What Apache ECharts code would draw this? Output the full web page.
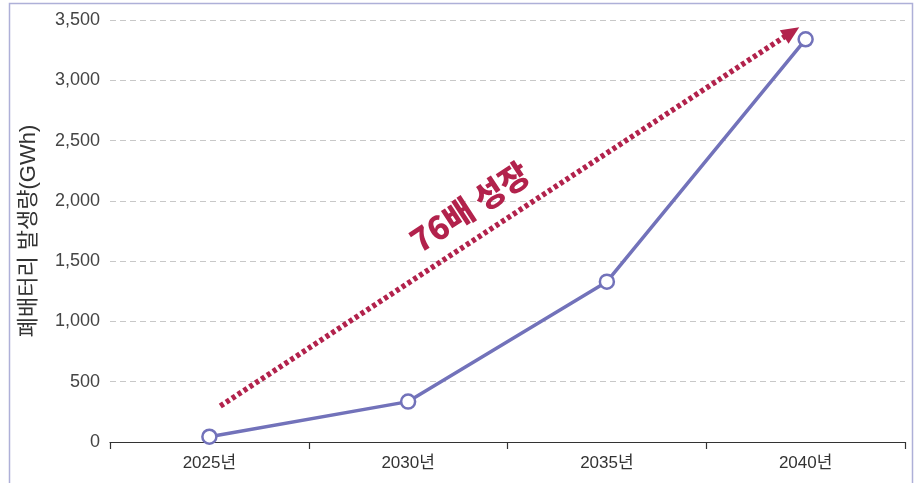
<!DOCTYPE html>
<html><head><meta charset="utf-8">
<script src="https://cdn.jsdelivr.net/npm/echarts@6/dist/echarts.min.js"></script>
<style>html,body{margin:0;padding:0;background:#fff}#c{width:917px;height:483px}</style>
</head><body><div id="c"></div>
<script>
const categories = ['2025년', '2030년', '2035년', '2040년'];
const values = [44, 335, 1330, 3340];
const yTicks = [0, 500, 1000, 1500, 2000, 2500, 3000, 3500];
const yAxisName = '폐배터리 발생량(GWh)';
const arrowStart = [0.055, 298];
const arrowEnd = [2.93, 3400];
const arrowText = '76배 성장';
const arrowTextPos = [1.31, 1950];

const FONT = "'Liberation Sans','Noto Sans CJK KR',sans-serif";
const chart = echarts.init(document.getElementById('c'));
chart.setOption({
  animation: false,
  grid: {left: 110, right: 12, top: 20, bottom: 41},
  xAxis: [{
    type: 'category', data: categories, boundaryGap: true,
    axisLine: {lineStyle: {color: '#333', width: 1.2}},
    axisTick: {show: true, length: 7, lineStyle: {color: '#333', width: 1.2}},
    axisLabel: {color: '#333', fontSize: 17, fontFamily: FONT, margin: 13},
    splitLine: {show: false}
  }, {
    type: 'value', min: -0.5, max: 3.5, show: false
  }],
  yAxis: {
    type: 'value', min: yTicks[0], max: yTicks[yTicks.length - 1], interval: 500,
    name: yAxisName, nameLocation: 'middle', nameGap: 70, nameRotate: 90,
    nameTextStyle: {color: '#333', fontSize: 22, fontFamily: FONT},
    axisLine: {show: false}, axisTick: {show: false},
    axisLabel: {color: '#444', fontSize: 18, fontFamily: FONT, margin: 10,
      formatter: v => v.toLocaleString('en-US')},
    splitLine: {lineStyle: {color: '#c8c8c8', type: [6, 4], width: 1}}
  },
  series: [{
    type: 'line', data: values, xAxisIndex: 0,
    symbol: 'circle', symbolSize: 14,
    lineStyle: {color: '#7272ba', width: 3.5},
    itemStyle: {color: '#fff', borderColor: '#7272ba', borderWidth: 2.5},
    z: 3
  }, {
    type: 'line', xAxisIndex: 1, data: [], symbol: 'none',
    markLine: {
      silent: true, symbol: ['none', 'triangle'], symbolSize: [16, 18],
      lineStyle: {color: '#b2224c', width: 5.5, type: [4, 3]},
      label: {show: false},
      data: [[{coord: arrowStart}, {coord: arrowEnd}]]
    }
  }]
});
const tp = chart.convertToPixel({xAxisIndex: 1, yAxisIndex: 0}, arrowTextPos);
const sp = chart.convertToPixel({xAxisIndex: 1, yAxisIndex: 0}, arrowStart);
const ep = chart.convertToPixel({xAxisIndex: 1, yAxisIndex: 0}, arrowEnd);
const ang = Math.atan2(sp[1] - ep[1], ep[0] - sp[0]);
chart.setOption({
  graphic: [{
    type: 'text', x: tp[0], y: tp[1], rotation: ang,
    style: {text: arrowText, fill: '#b2224c', font: "900 32px 'Noto Sans CJK KR'",
      align: 'center', verticalAlign: 'middle'}
  }, {
    type: 'rect', shape: {x: 9.5, y: 3.5, width: 903, height: 520},
    style: {fill: 'none', stroke: '#aeb0d8', lineWidth: 1.5}, silent: true
  }]
});
</script></body></html>
